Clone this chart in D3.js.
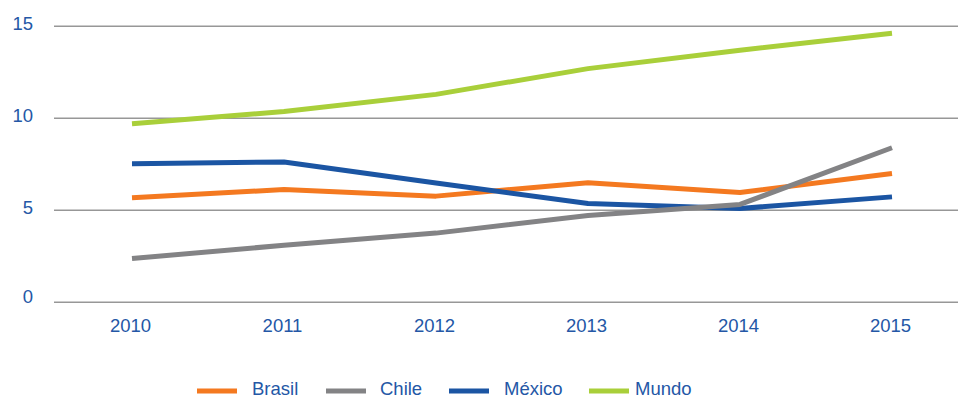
<!DOCTYPE html>
<html>
<head>
<meta charset="utf-8">
<script src="https://cdn.jsdelivr.net/npm/d3@7/dist/d3.min.js"></script>
<style>
  html, body { margin: 0; padding: 0; background: #fff; }
  svg { display: block; }
  text { font-family: "Liberation Sans", Arial, Helvetica, sans-serif; fill: #2457a6; }
</style>
</head>
<body>
<svg id="chart" width="958" height="399"></svg>
<script>
// Years on the horizontal axis
const years = ["2010", "2011", "2012", "2013", "2014", "2015"];

// Series values
const brasil = [5.68, 6.13, 5.77, 6.5, 5.97, 7.0];
const chile  = [2.38, 3.1, 3.76, 4.72, 5.32, 8.4];
const mexico = [7.53, 7.63, 6.48, 5.37, 5.1, 5.73];
const mundo  = [9.7, 10.37, 11.3, 12.7, 13.7, 14.62];

// Y axis ticks
const yTicks = [0, 5, 10, 15];

const seriesNames = ["Brasil", "Chile", "México", "Mundo"];
const seriesColors = {
  "Brasil": "#f47920",
  "Chile": "#838385",
  "México": "#1b55a3",
  "Mundo": "#a9cf3a"
};
const seriesValues = { "Brasil": brasil, "Chile": chile, "México": mexico, "Mundo": mundo };

const svg = d3.select("#chart");

const x = d3.scalePoint().domain(years).range([56, 968]).padding(0.5);
const y = d3.scaleLinear().domain([0, 15]).range([302.3, 26.3]);

// Horizontal grid lines
svg.append("g")
  .selectAll("line")
  .data(yTicks)
  .join("line")
  .attr("x1", 54)
  .attr("x2", 958)
  .attr("y1", d => y(d))
  .attr("y2", d => y(d))
  .attr("stroke", "#979797")
  .attr("stroke-width", 1.4);

// Y tick labels
svg.append("g")
  .selectAll("text")
  .data(yTicks)
  .join("text")
  .attr("x", 33)
  .attr("y", d => y(d) + (d === 0 ? 1 : 4))
  .attr("text-anchor", "end")
  .attr("font-size", 18.5)
  .text(d => d);

// X tick labels
svg.append("g")
  .selectAll("text")
  .data(years)
  .join("text")
  .attr("x", d => x(d) - 1.5)
  .attr("y", 331.5)
  .attr("text-anchor", "middle")
  .attr("font-size", 18.5)
  .text(d => d);

// Lines (drawing order controls overlap)
const line = d3.line()
  .x((d, i) => x(years[i]))
  .y(d => y(d));

const drawOrder = ["Mundo", "Brasil", "México", "Chile"];
svg.append("g")
  .selectAll("path")
  .data(drawOrder)
  .join("path")
  .attr("d", name => line(seriesValues[name]))
  .attr("fill", "none")
  .attr("stroke", name => seriesColors[name])
  .attr("stroke-width", 5)
  .attr("stroke-linejoin", "round")
  .attr("stroke-linecap", "butt");

// Legend
const legendX = [197, 326, 449, 589];
const legend = svg.append("g")
  .selectAll("g")
  .data(seriesNames)
  .join("g")
  .attr("transform", (d, i) => `translate(${legendX[i]},391)`);

legend.append("line")
  .attr("x1", 0)
  .attr("x2", 40)
  .attr("y1", 0)
  .attr("y2", 0)
  .attr("stroke", d => seriesColors[d])
  .attr("stroke-width", 5);

legend.append("text")
  .attr("x", (d, i) => [55, 54, 55, 46][i])
  .attr("y", 3.8)
  .attr("font-size", 18.5)
  .text(d => d);
</script>
</body>
</html>
